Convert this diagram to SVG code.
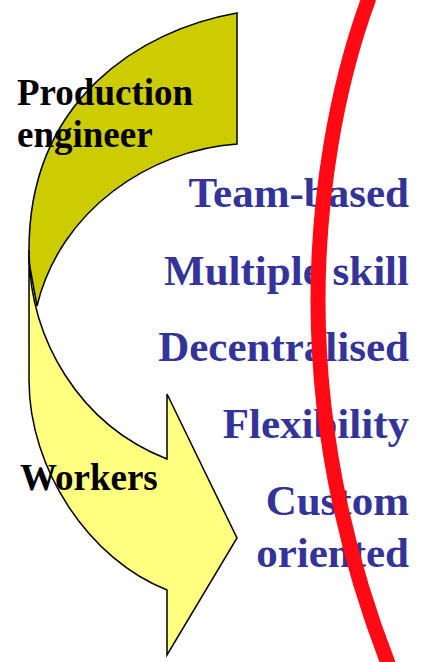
<svg xmlns="http://www.w3.org/2000/svg" width="421" height="662" viewBox="0 0 421 662">
<style>
.shape{stroke:#000;stroke-width:1.5;stroke-linejoin:miter}
.lbl{font-family:"Liberation Serif","Times New Roman",serif;font-weight:bold;font-size:37px;fill:#000}
.item{font-family:"Liberation Serif","Times New Roman",serif;font-weight:bold;font-size:43px;fill:#333399;text-anchor:end}
</style>
<rect width="421" height="662" fill="#fff"/>
<g id="production-arrow">
<path class="shape" fill="#CCCC00" d="M237,13 L237,144 C150,150 60,210 37,306 L29,262 L29,250 C29,100 140,30 237,13 Z"/>
</g>
<g id="workers-arrow">
<path class="shape" fill="#FFFF80" d="M29,250 L29,380 C29,470 90,560 167,590 L167,655 L237,538 L167,394 L167,459 C80,425 29,340 29,250 Z"/>
</g>
<g id="labels">
<text class="lbl" x="17" y="105">Production</text>
<text class="lbl" x="17" y="147">engineer</text>
<text class="lbl" x="20" y="490">Workers</text>
</g>
<g id="items">
<text class="item" x="409" y="207">Team-based</text>
<text class="item" x="409" y="285">Multiple skill</text>
<text class="item" x="409" y="361">Decentralised</text>
<text class="item" x="409" y="438">Flexibility</text>
<text class="item" x="409" y="515">Custom</text>
<text class="item" x="409" y="567">oriented</text>
</g>
<g id="connectors">
<path d="M369,-2 C335,90 318,200 318,300 C318,420 340,540 389,666" fill="none" stroke="#FF0A14" stroke-width="15"/>
</g>
</svg>
